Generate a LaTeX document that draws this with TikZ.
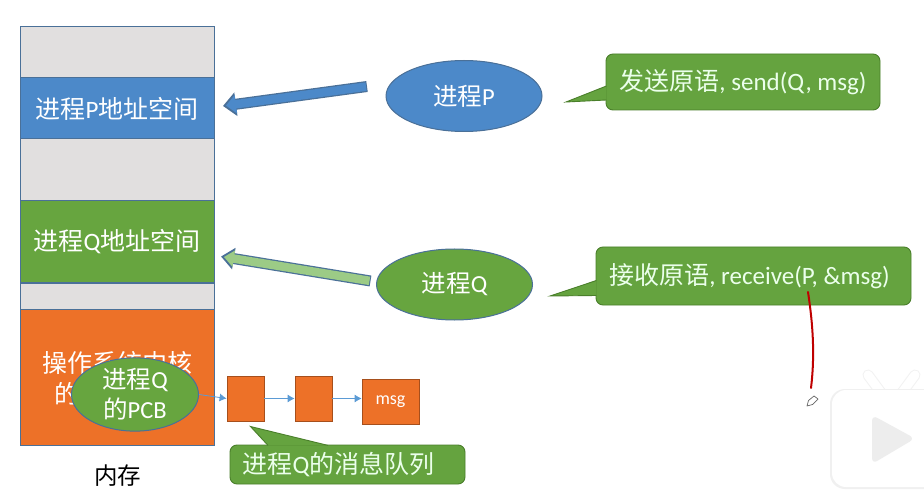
\documentclass[tikz,border=0pt]{standalone}
\usepackage{fontspec}
\setmainfont{Carlito}
\newfontfamily\cjk{Noto Sans CJK SC}
\newcommand{\cn}[1]{{\cjk #1}}
\newcommand{\calltail}[3]{%
	\fill[fill=calloutgreen] (#1) -- (#2) -- (#3) -- cycle;
	\draw[draw=calloutedge,line width=0.9pt,line join=miter] (#1) -- (#2) -- (#3);
}
\usetikzlibrary{%
	calc,%
	arrows.meta,%
	shapes.geometric%
}
\definecolor{blockgrey}{HTML}{E1DFDF}
\definecolor{blockblue}{HTML}{4C89C9}
\definecolor{blockgreen}{HTML}{67A53F}
\definecolor{blockorange}{HTML}{ED7128}
\definecolor{blockedge}{HTML}{4A7098}
\definecolor{calloutgreen}{HTML}{65A33F}
\definecolor{calloutedge}{HTML}{4A7F2B}
\definecolor{lightarrow}{HTML}{9CCB86}
\definecolor{thinarrow}{HTML}{5B9BD5}
\tikzset{
	membox/.style={draw=blockedge,line width=1pt,minimum width=194pt,inner sep=0pt,text=white,font=\fontsize{25}{30}\selectfont},
	proc/.style={ellipse,draw=blockedge,line width=1pt,inner sep=0pt,minimum width=156pt,minimum height=71pt,text=white,font=\fontsize{24.5}{30}\selectfont},
	queuebox/.style={draw=blockorange!70!black,line width=0.8pt,fill=blockorange,inner sep=0pt,minimum width=37pt,minimum height=45pt,text=white},
	callout/.style={draw=calloutedge,line width=0.9pt,fill=calloutgreen,rounded corners=7pt,inner sep=0pt,text=white!92!green,font=\fontsize{25}{30}\selectfont},
	thinlink/.style={thinarrow,line width=0.8pt,-{Latex[length=7pt,width=8pt]}}
}
\begin{document}
\begin{tikzpicture}[x=1pt,y=-1pt]
	\useasboundingbox (0,0) rectangle (924,497);
	\fill[white] (0,0) rectangle (924,497);

	% Memory column
	\node[membox,fill=blockgrey,minimum height=51pt] (memTop) at (117,52.5) {};
	\node[membox,fill=blockblue,minimum height=61pt] (memP) at (117,108.5) {\cn{进程}P\cn{地址空间}};
	\node[membox,fill=blockgrey,minimum height=62pt] (memGapA) at (117,170) {};
	\node[membox,fill=blockgreen,minimum height=82pt] (memQ) at (117,242) {\cn{进程}Q\cn{地址空间}};
	\node[membox,fill=blockgrey,minimum height=26pt] (memGapB) at (117,296) {};
	\node[membox,fill=blockorange,minimum height=136pt] (memKernel) at (117,377) {};
	\node[text=white,align=center,font=\fontsize{25}{31}\selectfont] (kernelText) at (117,378) {\cn{操作系统内核}\\\cn{的\phantom{地址空间}}};
	\node[font=\fontsize{23.5}{28}\selectfont] (memLabel) at (117.5,476) {\cn{内存}};

	% Processes
	\node[proc,fill=blockblue] (procP) at (464,96) {\raisebox{-1pt}{\cn{进程}P}};
	\node[proc,fill=blockgreen] (procQ) at (454.5,284.5) {\raisebox{-1pt}{\cn{进程}Q}};
	\node[proc,fill=blockgreen,minimum width=127pt,align=center] (pcbQ) at (135,394.5) {\cn{进程}Q\\\cn{的}PCB};

	% Block arrows
	\coordinate (tailP) at (367,86.5);
	\coordinate (tipP) at (223,106);
	\coordinate (tailQ) at (370.5,281);
	\coordinate (tipQ) at (221,256.5);
	\draw[blockedge,line width=11pt,-{Triangle[length=13pt,width=23pt]}] (tailP) -- (tipP);
	\draw[blockblue,line width=8.5pt,shorten <=1pt,shorten >=3pt,-{Triangle[length=10pt,width=18pt]}] (tailP) -- (tipP);
	\draw[blockedge,line width=11pt,-{Triangle[length=13pt,width=21pt]}] (tailQ) -- (tipQ);
	\draw[lightarrow,line width=8.5pt,shorten <=1pt,shorten >=3pt,-{Triangle[length=10pt,width=16pt]}] (tailQ) -- (tipQ);

	% Message queue
	\node[queuebox] (boxA) at (245.5,398.5) {};
	\node[queuebox] (boxB) at (313.5,398.5) {};
	\node[queuebox,minimum width=57pt] (boxMsg) at (390.5,401.5) {\fontsize{18}{22}\selectfont msg};
	\draw[thinlink] (pcbQ.east) -- (boxA.west);
	\draw[thinlink] (boxA.east) -- (boxB.west);
	\draw[thinlink] (boxB.east) -- (boxB.east -| boxMsg.west);

	% Callouts
	\node[callout,minimum width=274pt,minimum height=56pt] (sendNote) at (743,82) {\raisebox{-2pt}{\cn{发送原语}, send(Q, msg)}};
	\node[callout,minimum width=315pt,minimum height=58pt] (recvNote) at (753.5,276) {\raisebox{-2pt}{\cn{接收原语}, receive(P, \&msg)}\hspace*{8pt}};
	\node[callout,minimum width=235pt,minimum height=39pt] (queueNote) at (347.5,464.5) {\cn{进程}Q\cn{的消息队列}\hspace*{18pt}};
	\coordinate (sendTip) at (566,102);
	\coordinate (recvTip) at (550,296);
	\coordinate (queueTip) at (250.5,426.5);
	\calltail{606.4,86}{sendTip}{606.4,100}
	\calltail{596.4,280.5}{recvTip}{596.4,295.5}
	\calltail{268,445.4}{queueTip}{328,445.4}

	% Red ink and pencil
	\draw[red!75!black,line width=2pt,line cap=round] (808,292) .. controls (813,325) and (815,355) .. (811,388);
	\draw[black!60,fill=white,line width=0.7pt,line join=round] (807,406) -- (808.5,400.5) -- (814,396) -- (818,399) -- (812.5,404.5) -- cycle;

	% Watermark
	\draw[black!5,line width=11pt,line cap=round] (868,375) -- (882,394);
	\draw[black!5,line width=11pt,line cap=round] (915,375) -- (901,394);
	\draw[white,line width=9pt,line cap=round] (868,375) -- (882,394);
	\draw[white,line width=9pt,line cap=round] (915,375) -- (901,394);
	\fill[black!6,rounded corners=15pt] (830,389) rectangle (940,489);
	\fill[white,rounded corners=14pt] (832,390) rectangle (940,487);
	\fill[black!7,rounded corners=6pt] (872,415) -- (915,438.5) -- (872,464) -- cycle;
\end{tikzpicture}
\end{document}
